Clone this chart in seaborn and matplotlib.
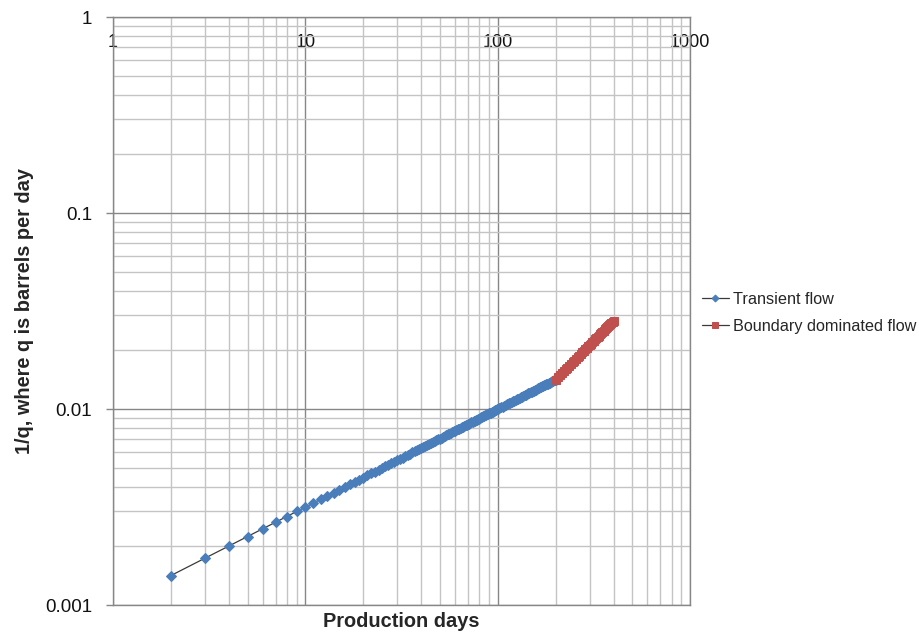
import numpy as np
import pandas as pd
import matplotlib
matplotlib.use("Agg")
import matplotlib.pyplot as plt
import matplotlib.ticker as mticker
import seaborn as sns

# 数据：从图中读取
transient_days = list(range(2, 101)) + list(range(102, 201, 2))
transient_inv_q = [
    0.001414, 0.001732, 0.002000, 0.002236, 0.002449, 0.002646, 0.002828, 0.003000,
    0.003162, 0.003317, 0.003464, 0.003606, 0.003742, 0.003873, 0.004000, 0.004123,
    0.004243, 0.004359, 0.004472, 0.004583, 0.004690, 0.004796, 0.004899, 0.005000,
    0.005099, 0.005196, 0.005292, 0.005385, 0.005477, 0.005568, 0.005657, 0.005745,
    0.005831, 0.005916, 0.006000, 0.006083, 0.006164, 0.006245, 0.006325, 0.006403,
    0.006481, 0.006557, 0.006633, 0.006708, 0.006782, 0.006856, 0.006928, 0.007000,
    0.007071, 0.007141, 0.007211, 0.007280, 0.007348, 0.007416, 0.007483, 0.007550,
    0.007616, 0.007681, 0.007746, 0.007810, 0.007874, 0.007937, 0.008000, 0.008062,
    0.008124, 0.008185, 0.008246, 0.008307, 0.008367, 0.008426, 0.008485, 0.008544,
    0.008602, 0.008660, 0.008718, 0.008775, 0.008832, 0.008888, 0.008944, 0.009000,
    0.009055, 0.009110, 0.009165, 0.009220, 0.009274, 0.009327, 0.009381, 0.009434,
    0.009487, 0.009539, 0.009592, 0.009644, 0.009695, 0.009747, 0.009798, 0.009849,
    0.009899, 0.009950, 0.010000,
    0.010100, 0.010198, 0.010296, 0.010392, 0.010488, 0.010583, 0.010677,
    0.010770, 0.010863, 0.010954, 0.011045, 0.011136, 0.011225, 0.011314, 0.011402,
    0.011489, 0.011576, 0.011662, 0.011747, 0.011832, 0.011916, 0.012000, 0.012083,
    0.012166, 0.012247, 0.012329, 0.012410, 0.012490, 0.012570, 0.012649, 0.012728,
    0.012806, 0.012884, 0.012962, 0.013038, 0.013115, 0.013191, 0.013267, 0.013342,
    0.013416, 0.013491, 0.013565, 0.013638, 0.013711, 0.013784, 0.013856, 0.013928,
    0.014000, 0.014071, 0.014142,
]

boundary_days = list(range(200, 401, 5))
boundary_inv_q = [
    0.01414, 0.01450, 0.01485, 0.01520, 0.01556, 0.01591, 0.01626, 0.01662,
    0.01697, 0.01732, 0.01768, 0.01803, 0.01838, 0.01874, 0.01909, 0.01945,
    0.01980, 0.02015, 0.02051, 0.02086, 0.02121, 0.02157, 0.02192, 0.02227,
    0.02263, 0.02298, 0.02333, 0.02369, 0.02404, 0.02439, 0.02475, 0.02510,
    0.02546, 0.02581, 0.02616, 0.02652, 0.02687, 0.02722, 0.02758, 0.02793,
    0.02828,
]

x_tick_values = [1, 10, 100, 1000]
x_tick_labels = ["1", "10", "100", "1000"]
y_tick_values = [0.001, 0.01, 0.1, 1]
y_tick_labels = ["0.001", "0.01", "0.1", "1"]

sns.set_style("white")
plt.rcParams['font.family'] = ['Liberation Sans', 'DejaVu Sans']

fig = plt.figure(figsize=(9.19, 6.32), dpi=100)
ax = fig.add_axes([0.123, 0.0427, 0.628, 0.9304])

df_t = pd.DataFrame({"days": transient_days, "inv_q": transient_inv_q})
df_b = pd.DataFrame({"days": boundary_days, "inv_q": boundary_inv_q})

sns.lineplot(data=df_t, x="days", y="inv_q", ax=ax, color="#3a3a3a", linewidth=0.9,
             marker="D", markersize=5, markerfacecolor="#4a7ebb",
             markeredgecolor="#4a7ebb", label="Transient flow", zorder=3)
sns.lineplot(data=df_b, x="days", y="inv_q", ax=ax, color="#3a3a3a", linewidth=0.9,
             marker="s", markersize=5.5, markerfacecolor="#c0504d",
             markeredgecolor="#c0504d", label="Boundary dominated flow", zorder=3)

ax.set_xscale("log")
ax.set_yscale("log")
ax.set_xlim(1, 1000)
ax.set_ylim(0.001, 1)

# 网格
ax.xaxis.set_minor_locator(mticker.LogLocator(base=10, subs=np.arange(2, 10)))
ax.yaxis.set_minor_locator(mticker.LogLocator(base=10, subs=np.arange(2, 10)))
ax.grid(True, which="major", color="#878787", linewidth=1.0, zorder=0)
ax.grid(True, which="minor", color="#c4c4c4", linewidth=1.0, zorder=0)
ax.set_axisbelow(True)

for sp in ax.spines.values():
    sp.set_color("#878787")
    sp.set_linewidth(1.0)

# x 轴标签在图内顶部
ax.set_xticks(x_tick_values)
ax.set_xticklabels(x_tick_labels)
ax.xaxis.set_minor_formatter(mticker.NullFormatter())
ax.xaxis.tick_top()
ax.tick_params(axis="x", which="both", length=0, pad=-24.5, labelsize=13, labelcolor="#111111")

ax.set_yticks(y_tick_values)
ax.set_yticklabels(y_tick_labels)
ax.yaxis.set_minor_formatter(mticker.NullFormatter())
ax.tick_params(axis="y", which="major", length=5, width=1, color="#878787", direction="out",
               left=True, pad=10, labelsize=13.5, labelcolor="#111111")
ax.tick_params(axis="y", which="minor", length=0)

ax.set_xlabel("Production days", fontsize=14.4, fontweight="bold", labelpad=5)
ax.xaxis.set_label_position("bottom")
ax.set_ylabel("1/q, where q is barrels per day", fontsize=14.4, fontweight="bold", labelpad=8)

ax.legend(loc="center left", bbox_to_anchor=(1.0, 0.497), frameon=False,
          fontsize=11.7, handlelength=1.66, handletextpad=0.3, labelspacing=0.75,
          borderaxespad=0.3, markerscale=0.7)

plt.savefig("out.png", dpi=100)
plt.close()
